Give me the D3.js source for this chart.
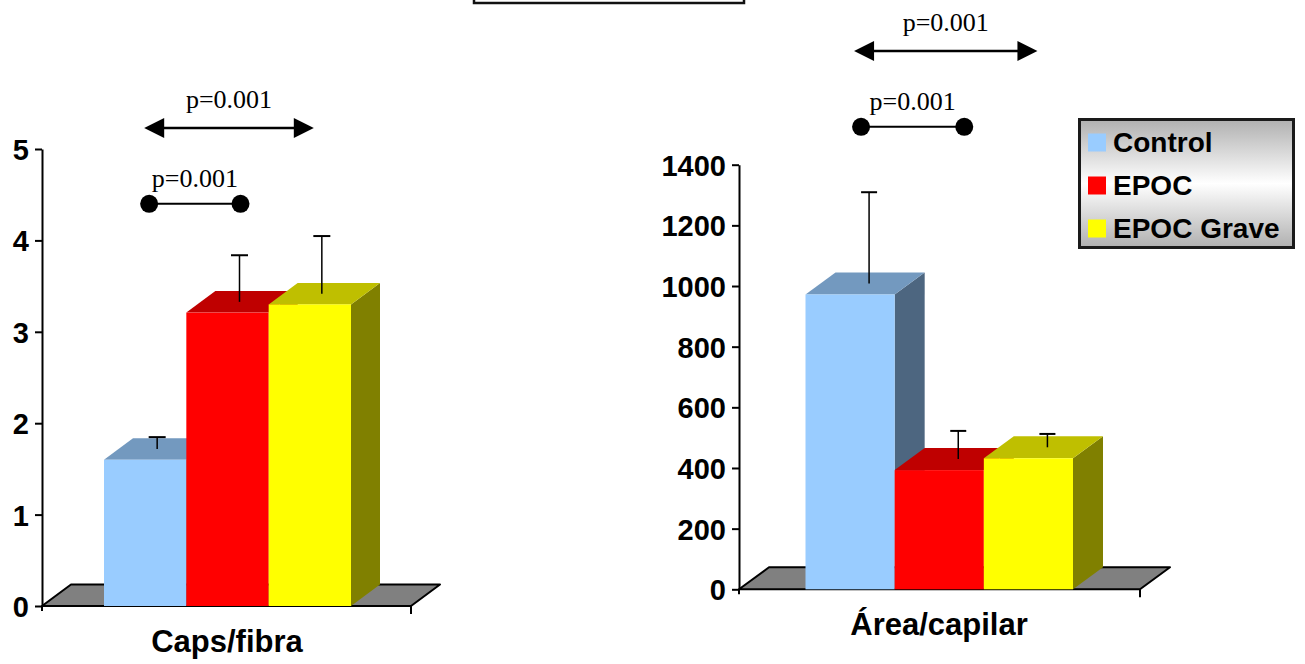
<!DOCTYPE html>
<html>
<head>
<meta charset="utf-8">
<script src="https://cdn.jsdelivr.net/npm/d3@7"></script>
<style>
  html, body { margin: 0; padding: 0; background: #fff; }
  svg { display: block; }
</style>
</head>
<body>
<script>
// ---------------- DATA ----------------
const series = ["Control", "EPOC", "EPOC Grave"];
const categories = ["Caps/fibra", "Área/capilar"];

const capsValues = [1.60, 3.21, 3.30];
const capsErrors = [0.13, 0.51, 0.63];
const capsTicks = [0, 1, 2, 3, 4, 5];

const areaValues = [972, 393, 432];
const areaErrors = [301, 93, 44];
const areaTicks = [0, 200, 400, 600, 800, 1000, 1200, 1400];

const pLabels = ["p=0.001", "p=0.001"];
// annotation levels (in data units of each chart): [dumbbell, arrow]
const capsAnnotLevels = [4.40, 5.23];
const areaAnnotLevels = [1525, 1775];

// ---------------- STYLE ----------------
const colors = {
  front: ["#99CCFF", "#FF0000", "#FFFF00"],
  top:   ["#7399BF", "#BF0000", "#BFBF00"],
  side:  ["#4D6680", "#800000", "#808000"]
};
const SANS = "'Liberation Sans', Arial, Helvetica, sans-serif";
const SERIF = "'Liberation Serif', 'Times New Roman', serif";

const svg = d3.select("body").append("svg")
  .attr("width", 1305).attr("height", 664);

// top (cut) title box
svg.append("rect").attr("x", 474).attr("y", -12).attr("width", 270).attr("height", 15)
  .attr("fill", "#fff").attr("stroke", "#111").attr("stroke-width", 2.5);

function drawChart(cfg) {
  const g = svg.append("g");
  const x = d3.scaleBand().domain(series).range(cfg.barRange).paddingInner(0).paddingOuter(0);
  const y = d3.scaleLinear().domain([0, cfg.ticks[cfg.ticks.length - 1]]).range(cfg.yRange);
  const base = y(0);
  const dx = cfg.dx, dy = cfg.dy;

  // floor
  const fl = cfg.floor; // [xLeft, xRight] of front edge
  g.append("polygon")
    .attr("points", [[fl[0], base], [fl[0] + dx, base + dy], [fl[1] + dx, base + dy], [fl[1], base]].map(p => p.join(",")).join(" "))
    .attr("fill", "#808080").attr("stroke", "#000").attr("stroke-width", 2).attr("stroke-linejoin", "round");
  g.append("line").attr("x1", fl[1]).attr("x2", fl[1]).attr("y1", base).attr("y2", base + 8)
    .attr("stroke", "#000").attr("stroke-width", 2);
  g.append("line").attr("x1", fl[0]).attr("x2", fl[0]).attr("y1", base).attr("y2", base + 5)
    .attr("stroke", "#000").attr("stroke-width", 2);

  // bars
  cfg.values.forEach((v, i) => {
    const s = series[i];
    const x0 = x(s), w = x.bandwidth(), y0 = y(v);
    g.append("polygon")
      .attr("points", [[x0 + w, y0], [x0 + w + dx, y0 + dy], [x0 + w + dx, base + dy], [x0 + w, base]].map(p => p.join(",")).join(" "))
      .attr("fill", colors.side[i]);
    g.append("polygon")
      .attr("points", [[x0, y0], [x0 + dx, y0 + dy], [x0 + w + dx, y0 + dy], [x0 + w, y0]].map(p => p.join(",")).join(" "))
      .attr("fill", colors.top[i]);
    g.append("rect").attr("x", x0).attr("y", y0).attr("width", w).attr("height", base - y0)
      .attr("fill", colors.front[i]);
  });

  // error bars (at mid depth)
  cfg.values.forEach((v, i) => {
    const s = series[i];
    const cx = x(s) + x.bandwidth() / 2 + cfg.errOffset;
    const yb = y(v) + dy / 2, yt = y(v + cfg.errors[i]) + dy / 2;
    g.append("line").attr("x1", cx).attr("x2", cx).attr("y1", yb).attr("y2", yt)
      .attr("stroke", "#000").attr("stroke-width", 1.5);
    g.append("line").attr("x1", cx - cfg.cap / 2).attr("x2", cx + cfg.cap / 2).attr("y1", yt).attr("y2", yt)
      .attr("stroke", "#000").attr("stroke-width", 2);
  });

  // value axis
  const ax = g.append("g").attr("transform", `translate(${cfg.axisX},0)`)
    .call(d3.axisLeft(y).tickValues(cfg.ticks).tickFormat(d3.format("d"))
      .tickSize(7).tickSizeOuter(0).tickPadding(6));
  ax.select(".domain").attr("stroke", "#000").attr("stroke-width", 2);
  ax.selectAll(".tick line").attr("stroke", "#000").attr("stroke-width", 2);
  ax.selectAll(".tick text").attr("font-family", SANS).attr("font-weight", "bold")
    .attr("font-size", cfg.tickFont).attr("fill", "#000").attr("dy", "0.36em");

  // category label
  g.append("text").attr("x", cfg.labelX).attr("y", cfg.labelY).attr("text-anchor", "middle")
    .attr("font-family", SANS).attr("font-weight", "bold").attr("font-size", 31).attr("fill", "#000")
    .text(cfg.category);

  // annotations: dumbbell (Control vs EPOC) and double arrow (Control vs EPOC Grave)
  const cC = x(series[0]) + x.bandwidth() / 2;
  const cE = x(series[1]) + x.bandwidth() / 2;
  const cG = x(series[2]) + x.bandwidth() / 2;
  const yD = y(cfg.annot[0]), yA = y(cfg.annot[1]);
  const d1 = cC + cfg.dumbOff[0], d2 = cE + cfg.dumbOff[1];
  g.append("line").attr("x1", d1).attr("x2", d2).attr("y1", yD).attr("y2", yD)
    .attr("stroke", "#000").attr("stroke-width", 2);
  [d1, d2].forEach(cx => g.append("circle").attr("cx", cx).attr("cy", yD).attr("r", 9).attr("fill", "#000"));
  g.append("text").attr("x", (d1 + d2) / 2).attr("y", yD - 17).attr("text-anchor", "middle")
    .attr("font-family", SERIF).attr("font-size", 26).attr("fill", "#000").text(pLabels[0]);

  const a1 = cC + cfg.arrowOff[0], a2 = cG + cfg.arrowOff[1];
  const ah = 20, hw = 10;
  g.append("line").attr("x1", a1 + ah - 2).attr("x2", a2 - ah + 2).attr("y1", yA).attr("y2", yA)
    .attr("stroke", "#000").attr("stroke-width", 2.5);
  g.append("polygon").attr("points", `${a1},${yA} ${a1 + ah},${yA - hw} ${a1 + ah},${yA + hw}`).attr("fill", "#000");
  g.append("polygon").attr("points", `${a2},${yA} ${a2 - ah},${yA - hw} ${a2 - ah},${yA + hw}`).attr("fill", "#000");
  g.append("text").attr("x", (a1 + a2) / 2).attr("y", yA - 20).attr("text-anchor", "middle")
    .attr("font-family", SERIF).attr("font-size", 26).attr("fill", "#000").text(pLabels[1]);
}

drawChart({
  category: categories[0], values: capsValues, errors: capsErrors, ticks: capsTicks,
  barRange: [104, 351], yRange: [606, 149], axisX: 42, dx: 29, dy: -21.5,
  floor: [42, 411], errOffset: 12, cap: 17, tickFont: 29,
  labelX: 227, labelY: 652,
  annot: capsAnnotLevels, dumbOff: [4, 13], arrowOff: [-1, 4]
});

drawChart({
  category: categories[1], values: areaValues, errors: areaErrors, ticks: areaTicks,
  barRange: [805.5, 1073], yRange: [589.3, 164.7], axisX: 739, dx: 30, dy: -22,
  floor: [739, 1140], errOffset: 19, cap: 16, tickFont: 29,
  labelX: 939, labelY: 635,
  annot: areaAnnotLevels, dumbOff: [11, 25], arrowOff: [4, 9]
});

// ---------------- LEGEND ----------------
const defs = svg.append("defs");
const grad = defs.append("linearGradient").attr("id", "legGrad").attr("x1", 0).attr("y1", 0).attr("x2", 0).attr("y2", 1);
grad.append("stop").attr("offset", "0%").attr("stop-color", "#b0b0b0");
grad.append("stop").attr("offset", "50%").attr("stop-color", "#ffffff");
grad.append("stop").attr("offset", "100%").attr("stop-color", "#b0b0b0");

const leg = svg.append("g").attr("transform", "translate(1078,118)");
leg.append("rect").attr("x", 1.5).attr("y", 1.5).attr("width", 214).attr("height", 128)
  .attr("fill", "url(#legGrad)").attr("stroke", "#1a1a1a").attr("stroke-width", 3);
series.forEach((s, i) => {
  const row = leg.append("g").attr("transform", `translate(0,${15.5 + i * 43})`);
  row.append("rect").attr("x", 10).attr("y", 0).attr("width", 18).attr("height", 18).attr("fill", colors.front[i]);
  row.append("text").attr("x", 35).attr("y", 18).attr("font-family", SANS).attr("font-weight", "bold")
    .attr("font-size", 28).attr("fill", "#000").text(s);
});
</script>
</body>
</html>
